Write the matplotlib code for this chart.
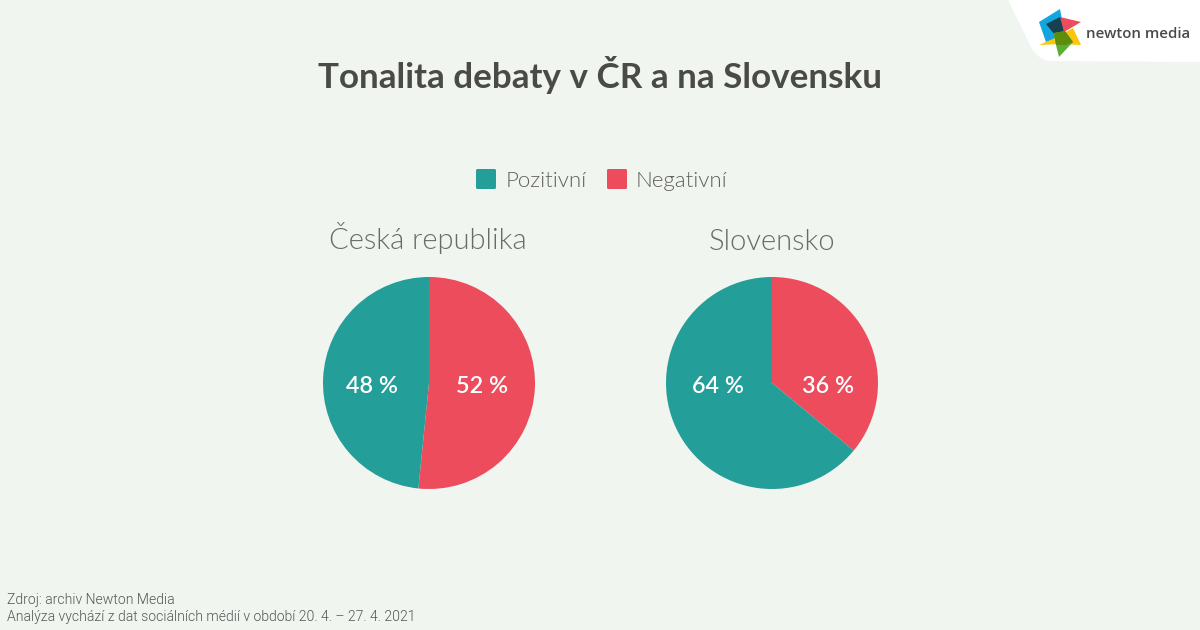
import matplotlib
matplotlib.use("Agg")
import matplotlib.pyplot as plt
from matplotlib.patches import Polygon, PathPatch, FancyBboxPatch
from matplotlib.path import Path

title = "Tonalita debaty v ČR a na Slovensku"
series = ["Pozitivní", "Negativní"]
regions = ["Česká republika", "Slovensko"]
positive = [48.4, 64]
negative = [51.6, 36]
notes = ["Zdroj: archiv Newton Media",
         "Analýza vychází z dat sociálních médií v období 20. 4. – 27. 4. 2021"]

BG = "#f0f5f0"; TEAL = "#249e98"; RED = "#ec4c5c"
W, H = 1200, 630
fig = plt.figure(figsize=(12, 6.3), dpi=100, facecolor=BG)

# pixel-coordinate overlay
ov = fig.add_axes([0, 0, 1, 1], zorder=0)
ov.set_xlim(0, W); ov.set_ylim(H, 0); ov.axis("off")

# logo backdrop
verts = [(1008, 0), (1030, 45), (1036, 58), (1048, 61), (1200, 62), (1200, 0), (1008, 0)]
codes = [Path.MOVETO, Path.LINETO, Path.CURVE3, Path.CURVE3, Path.LINETO, Path.LINETO, Path.CLOSEPOLY]
ov.add_patch(PathPatch(Path(verts, codes), fc="white", ec="none"))
# logo mark
ov.add_patch(Polygon([(1039, 22), (1060, 9), (1064, 30), (1055, 39), (1046, 42)], fc="#12a5e0", ec="none"))
ov.add_patch(Polygon([(1039, 45), (1055, 38), (1073, 28), (1081, 45), (1060, 44)], fc="#fcc60c", ec="none"))
ov.add_patch(Polygon([(1060, 17), (1081, 22), (1064, 32)], fc="#ec4c5c", ec="none"))
ov.add_patch(Polygon([(1046, 24), (1060, 17), (1064, 32), (1055, 35)], fc="#17414f", ec="none"))
ov.add_patch(Polygon([(1054, 33), (1065, 31), (1073, 42), (1059, 57), (1056, 45)], fc="#5aae32", ec="none"))
ov.add_patch(Polygon([(1054, 33), (1065, 31), (1073, 42), (1066, 45), (1056, 45)], fc="#5e8c0c", ec="none"))
ov.text(1086, 37.5, "newton media", fontsize=10.8, fontfamily="Open Sans", fontweight="semibold",
        color="#4a4a4a", ha="left", va="baseline")

# title
ov.text(600, 88, title, fontsize=25.2, fontfamily="Lato", fontweight="bold",
        color="#4a4a46", ha="center", va="baseline")

# legend
for x, c, s, tx in [(476, TEAL, series[0], 506), (607, RED, series[1], 636)]:
    ov.add_patch(FancyBboxPatch((x, 169), 20, 20,
                                boxstyle="round,pad=0,rounding_size=1.5", fc=c, ec="none"))
    ov.text(tx, 187, s, fontsize=16, fontfamily="Lato", fontweight=300,
            color="#5f5f5c", ha="left", va="baseline")

# pies
centres = [429, 772]
R = 106
# label centre offsets from each pie's centre, pixels (negative slice, positive slice)
LABEL_DX = [(53, -57), (56, -54)]
for i, cx in enumerate(centres):
    ax = fig.add_axes([(cx - R) / W, 1 - (383 + R) / H, 2 * R / W, 2 * R / H], zorder=1)
    ax.pie([negative[i], positive[i]], colors=[RED, TEAL], startangle=90, counterclock=False,
           radius=1, wedgeprops=dict(linewidth=0))
    ax.set_xlim(-1, 1); ax.set_ylim(-1, 1)
    for dx, v in zip(LABEL_DX[i], (negative[i], positive[i])):
        ov.text(cx + dx, 393, f"{v:.0f} %", color="white", fontsize=16.8, zorder=5,
                fontfamily="Lato", fontweight="semibold", ha="center", va="baseline")
    ov.text(cx - 1 if i == 0 else cx - 0.5, 249.5, regions[i], fontsize=21, fontfamily="Lato", fontweight=300,
            color="#6a6a67", ha="center", va="baseline")
ov.set_zorder(2)

# footnotes
for y, t in zip([604, 621.5], notes):
    ov.text(7, y, t, fontsize=10.1, fontfamily="Roboto", fontweight=300,
            color="#555555", ha="left", va="baseline")

fig.savefig("out.png", dpi=100, facecolor=BG)
